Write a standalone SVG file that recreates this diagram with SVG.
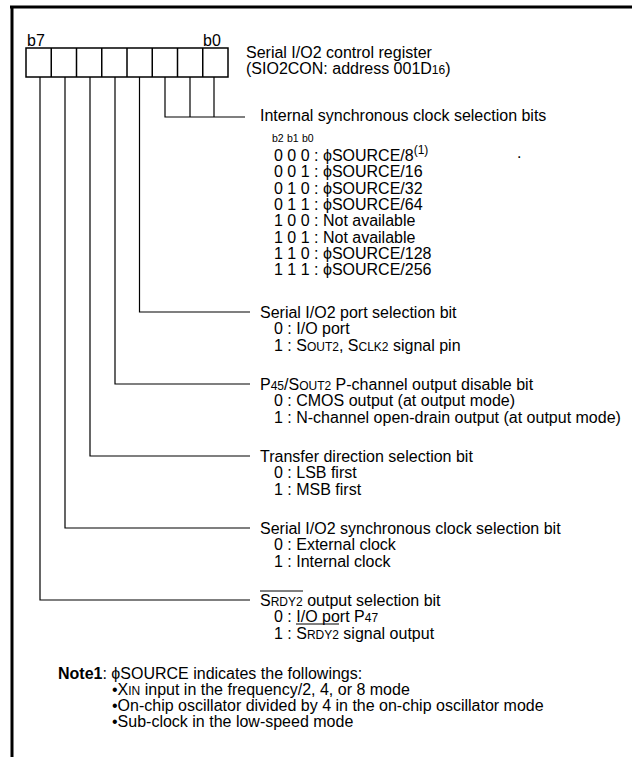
<svg xmlns="http://www.w3.org/2000/svg" width="632" height="757" viewBox="0 0 632 757">
<style>
text{font-family:"Liberation Sans",Arial,sans-serif;font-size:16px;fill:#000}
.s{font-size:12px}
.h{font-size:10.5px}
.w{stroke:#000;stroke-width:1.2;fill:none}
.ov{stroke:#000;stroke-width:1}
</style>
<rect width="632" height="757" fill="#fff"/>
<g id="frame">
<line x1="10" y1="7" x2="632" y2="7" stroke="#000" stroke-width="3"/>
<line x1="12" y1="6" x2="12" y2="757" stroke="#000" stroke-width="3"/>
</g>
<g id="register">
<rect x="26" y="48" width="202" height="29" fill="none" stroke="#000" stroke-width="1.5"/>
<path d="M51.25 48V77M76.5 48V77M101.75 48V77M127 48V77M152.25 48V77M177.5 48V77M202.75 48V77" stroke="#000" stroke-width="1.5"/>
<text x="27" y="46">b7</text>
<text x="203" y="46">b0</text>
<text x="246" y="57.5">Serial I/O2 control register</text>
<text x="246" y="73.5">(SIO2CON: address 001D<tspan class="s">16</tspan>)</text>
</g>
<g id="connectors">
<path class="w" d="M165 77V117H245M190 77V117M214 77V117"/>
<path class="w" d="M139.5 77V312H250"/>
<path class="w" d="M115 77V384H250"/>
<path class="w" d="M90 77V456H250"/>
<path class="w" d="M65 77V528H250"/>
<path class="w" d="M40 77V600H250"/>
</g>
<g id="clock-bits">
<text x="260" y="121">Internal synchronous clock selection bits</text>
<text class="h" x="272" y="142">b2</text>
<text class="h" x="287" y="142">b1</text>
<text class="h" x="302" y="142">b0</text>
<text x="274" y="161">0 0 0 : ϕSOURCE/8<tspan class="s" dy="-7">(1)</tspan></text>
<text x="274" y="177.3">0 0 1 : ϕSOURCE/16</text>
<text x="274" y="193.6">0 1 0 : ϕSOURCE/32</text>
<text x="274" y="209.9">0 1 1 : ϕSOURCE/64</text>
<text x="274" y="226.2">1 0 0 : Not available</text>
<text x="274" y="242.5">1 0 1 : Not available</text>
<text x="274" y="258.8">1 1 0 : ϕSOURCE/128</text>
<text x="274" y="275.1">1 1 1 : ϕSOURCE/256</text>
<text x="517" y="158">.</text>
</g>
<g id="port-select">
<text x="260" y="317.5">Serial I/O2 port selection bit</text>
<text x="274" y="334">0 : I/O port</text>
<text x="274" y="350.5">1 : S<tspan class="s">OUT2</tspan>, S<tspan class="s">CLK2</tspan> signal pin</text>
</g>
<g id="pch-disable">
<text x="260" y="389.5">P<tspan class="s">45</tspan>/S<tspan class="s">OUT2</tspan> P-channel output disable bit</text>
<text x="274" y="406">0 : CMOS output (at output mode)</text>
<text x="274" y="422.5">1 : N-channel open-drain output (at output mode)</text>
</g>
<g id="direction">
<text x="260" y="461.5">Transfer direction selection bit</text>
<text x="274" y="478">0 : LSB first</text>
<text x="274" y="494.5">1 : MSB first</text>
</g>
<g id="sync-clock">
<text x="260" y="533.5">Serial I/O2 synchronous clock selection bit</text>
<text x="274" y="550">0 : External clock</text>
<text x="274" y="566.5">1 : Internal clock</text>
</g>
<g id="srdy">
<text x="260" y="605.5">S<tspan class="s">RDY2</tspan> output selection bit</text>
<line class="ov" x1="260" y1="591" x2="303" y2="591"/>
<text x="274" y="622">0 : I/O port P<tspan class="s">47</tspan></text>
<text x="274" y="638.5">1 : <tspan>S</tspan><tspan class="s">RDY2</tspan> signal output</text>
<line class="ov" x1="296" y1="624" x2="339" y2="624"/>
</g>
<g id="note">
<text x="58" y="678.5"><tspan font-weight="bold">Note1</tspan>: ϕSOURCE indicates the followings:</text>
<text x="112" y="694.5">•X<tspan class="s">IN</tspan> input in the frequency/2, 4, or 8 mode</text>
<text x="112" y="710.5">•On-chip oscillator divided by 4 in the on-chip oscillator mode</text>
<text x="112" y="726.5">•Sub-clock in the low-speed mode</text>
</g>
</svg>
